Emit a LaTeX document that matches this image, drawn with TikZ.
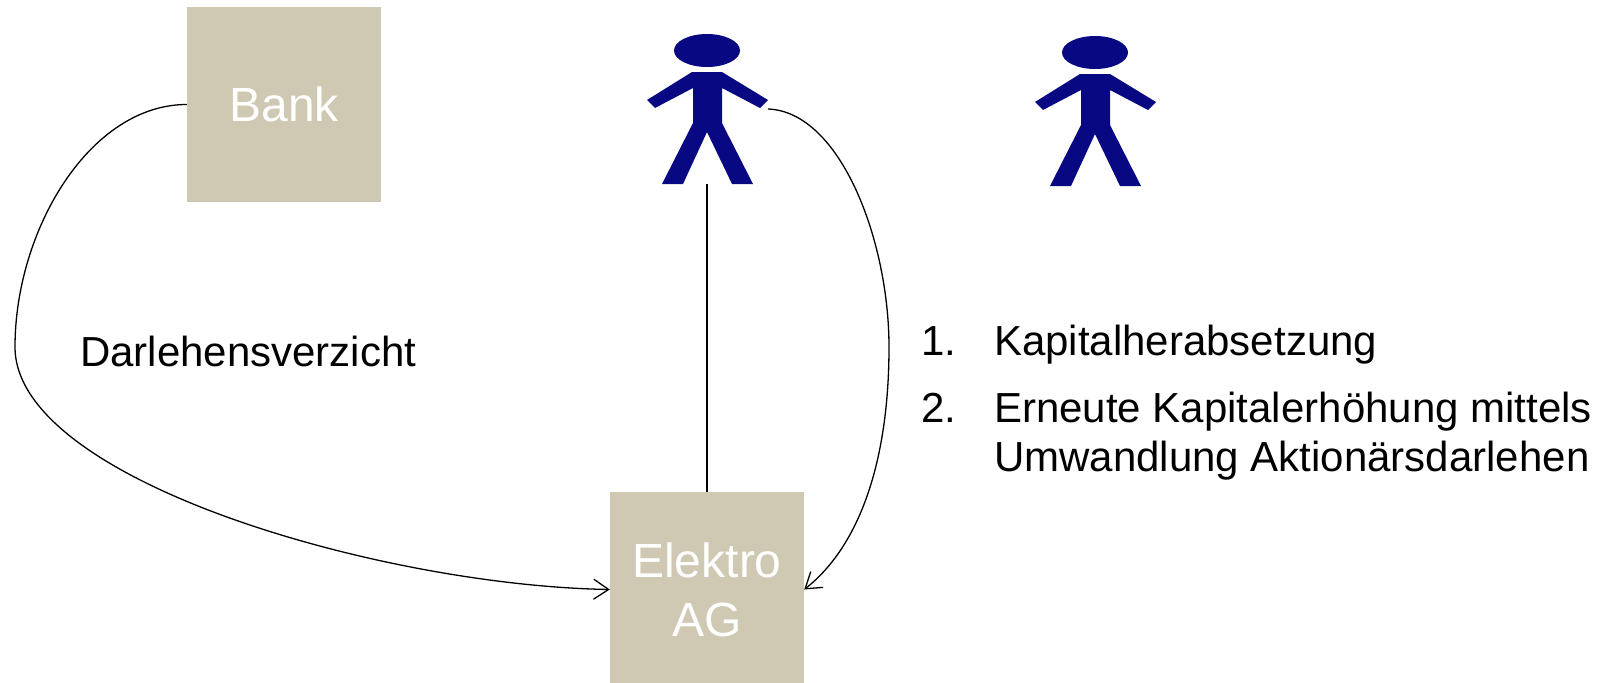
\documentclass[tikz,border=0pt]{standalone}
\usepackage{fontspec}
\setmainfont{Liberation Sans}
\usetikzlibrary{arrows.meta}
\definecolor{boxfill}{RGB}{207,200,179}
\definecolor{navyfig}{RGB}{8,8,130}
\begin{document}
\begin{tikzpicture}[x=1pt,y=-1pt,
  box/.style={fill=boxfill, draw=none, minimum width=194pt, minimum height=195pt, inner sep=0pt, text=white, align=center, font=\fontsize{48}{59}\selectfont},
  conn/.style={line width=1.3pt, black},
  arr/.style={-{Straight Barb[length=15pt,width=20pt]}},
  txt/.style={anchor=base west, inner sep=0pt, font=\fontsize{42}{49}\selectfont},
  holder/.style={minimum width=122pt, minimum height=150pt, inner sep=0pt, draw=none},
  person/.pic={
    \fill[navyfig] (0,50.5) ellipse [x radius=33pt, y radius=16.5pt];
    \fill[navyfig] (-15,72) -- (15,72) -- (61,100) -- (53,108) -- (15,88) -- (15,123)
      -- (46,184) -- (25,184) -- (0,132) -- (-24,184) -- (-45,184) -- (-14,123)
      -- (-14,88) -- (-52,108) -- (-60,100) -- cycle;
  }]
\clip (0,0) rectangle (1610,683);
\fill[white] (0,0) rectangle (1610,683);

\node[box] (bank) at (284,104.5) {Bank};
\node[box] (elektro) at (707,589.5) {Elektro\\AG};

\node[holder] (p1) at (707,109) {};
\node[holder] (p2) at (1095,111) {};
\pic at (707,0) {person};
\pic at (1095,2) {person};

\coordinate (lp) at (15,347);
\coordinate (rp) at (889,347);

\draw[conn,arr] (bank.west) .. controls +(-97,0) and +(0,-117) .. (lp)
  .. controls +(0,133) and +(-230,-4) .. (elektro.west);
\draw[conn,arr] (p1.east) .. controls +(72,3) and +(0,-107) .. (rp)
  .. controls +(0,113) and +(56,-44) .. (elektro.east);
\draw[conn] (p1.south) -- (elektro.north);

\node[txt] (darl) at (80,366) {Darlehensverzicht};
\node[txt] (n1) at (921,355) {1.};
\node[txt] (t1) at (994,355) {Kapitalherabsetzung};
\node[txt] (n2) at (921,422) {2.};
\node[txt] (t2) at (994,422) {Erneute Kapitalerhöhung mittels};
\node[txt] (t3) at (994,471) {Umwandlung Aktionärsdarlehen};
\end{tikzpicture}
\end{document}
